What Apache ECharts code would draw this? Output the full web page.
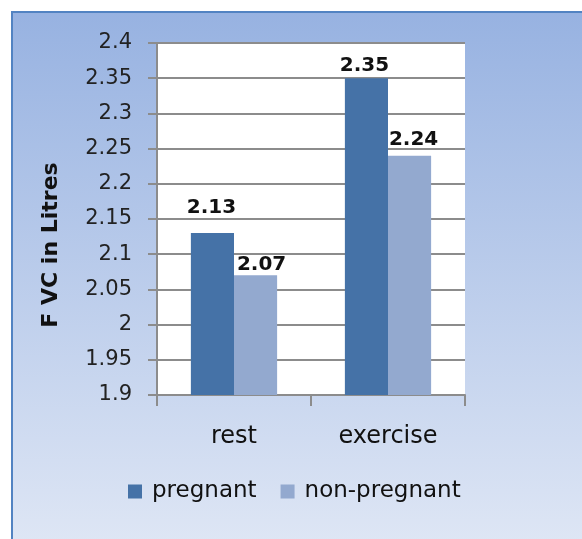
<!DOCTYPE html>
<html>
<head>
<meta charset="utf-8">
<script src="https://cdn.jsdelivr.net/npm/echarts@6/dist/echarts.min.js"></script>
<style>
html,body{margin:0;padding:0;background:#fff;}
#chart{width:582px;height:539px;}
</style>
</head>
<body>
<div id="chart"></div>
<script>
const categories = ['rest', 'exercise'];
const pregnant = [2.13, 2.35];
const nonPregnant = [2.07, 2.24];
const yMin = 1.9, yMax = 2.4, yStep = 0.05;
const seriesNames = ['pregnant', 'non-pregnant'];

// label placement tweaks (style only): [dx, distance above bar]
const pregnantLabelPos = [[-1, 15], [-2, 2]];
const nonPregnantLabelPos = [[6, 1], [4, 6]];

const FONT = 'DejaVu Sans';
const chart = echarts.init(document.getElementById('chart'));
const labelCfg = {
  show: true, position: 'top', distance: 8,
  fontFamily: FONT, fontWeight: 'bold', fontSize: 20, color: '#111'
};
function withLabels(values, pos) {
  return values.map((v, i) => ({
    value: v,
    label: { distance: pos[i][1], offset: [pos[i][0], 0] }
  }));
}
chart.setOption({
  animation: false,
  backgroundColor: '#ffffff',
  graphic: [{
    type: 'rect', z: -10, silent: true,
    shape: { x: 12, y: 12, width: 600, height: 560 },
    style: {
      fill: new echarts.graphic.LinearGradient(0, 0, 0, 1, [
        { offset: 0, color: '#97b2e1' },
        { offset: 1, color: '#e2e9f6' }
      ]),
      stroke: '#5283c2', lineWidth: 2
    }
  }],
  grid: {
    left: 157, top: 43, right: 117, bottom: 144,
    show: true, backgroundColor: '#ffffff', borderWidth: 0
  },
  legend: {
    data: seriesNames,
    left: 123, top: 475,
    itemWidth: 14, itemHeight: 14, itemGap: 24,
    icon: 'rect',
    textStyle: { fontFamily: FONT, fontSize: 23, color: '#111', padding: [0, 0, 0, 5] }
  },
  xAxis: {
    type: 'category', data: categories,
    axisLine: { show: true, lineStyle: { color: '#8c8c8c', width: 2 } },
    axisTick: { show: true, length: 11, lineStyle: { color: '#8c8c8c', width: 2 } },
    axisLabel: { fontFamily: FONT, fontSize: 24, color: '#111', margin: 30 }
  },
  yAxis: {
    type: 'value', min: yMin, max: yMax, interval: yStep,
    name: 'F VC in Litres', nameLocation: 'middle', nameRotate: 90, nameGap: 95,
    nameTextStyle: { fontFamily: FONT, fontWeight: 'bold', fontSize: 22, color: '#111', padding: [0, 52, 0, 0] },
    axisLine: { show: true, lineStyle: { color: '#8c8c8c', width: 2 } },
    axisTick: { show: true, length: 9, lineStyle: { color: '#8c8c8c', width: 2 } },
    splitLine: { show: true, lineStyle: { color: '#8c8c8c', width: 2 } },
    axisLabel: {
      fontFamily: FONT, fontSize: 21, color: '#222', margin: 25,
      formatter: v => String(Math.round(v * 100) / 100)
    }
  },
  series: [
    { name: seriesNames[0], type: 'bar', data: withLabels(pregnant, pregnantLabelPos),
      barGap: '0%', barCategoryGap: '44%',
      itemStyle: { color: '#4572a7' }, label: labelCfg },
    { name: seriesNames[1], type: 'bar', data: withLabels(nonPregnant, nonPregnantLabelPos),
      itemStyle: { color: '#93a9cf' }, label: labelCfg }
  ]
});
</script>
</body>
</html>
